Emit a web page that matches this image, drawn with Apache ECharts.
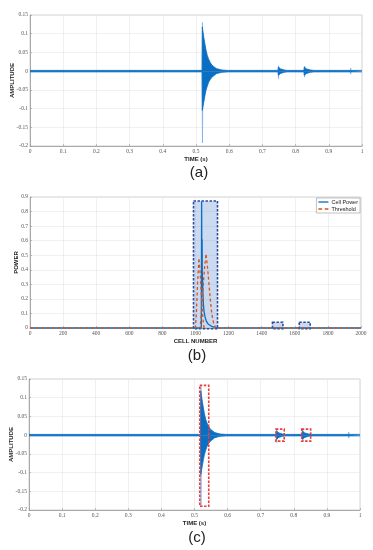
<!DOCTYPE html>
<html>
<head>
<meta charset="utf-8">
<script src="https://cdn.jsdelivr.net/npm/echarts@6/dist/echarts.min.js"></script>
<style>
html,body{margin:0;padding:0;background:#fff;}
#c{width:373px;height:550px;}
</style>
</head>
<body>
<div id="c"></div>
<script>
// ---- Data ----
// Dense signal envelope (dark part), panels (a) and (c)
const timeEnv = [0, 0.5185, 0.519, 0.521, 0.524, 0.527, 0.530, 0.534, 0.538, 0.543, 0.548, 0.554, 0.561, 0.569, 0.578, 0.595, 0.7475, 0.748, 0.751, 0.755, 0.760, 0.766, 0.775, 0.8255, 0.826, 0.829, 0.833, 0.838, 0.845, 0.855, 0.9645, 0.965, 0.969, 0.974, 1.0];
const ampUpper = [0.002, 0.002, 0.118, 0.105, 0.088, 0.072, 0.057, 0.042, 0.032, 0.023, 0.016, 0.011, 0.007, 0.005, 0.003, 0.002, 0.002, 0.011, 0.009, 0.006, 0.004, 0.003, 0.002, 0.002, 0.011, 0.009, 0.006, 0.004, 0.003, 0.002, 0.002, 0.006, 0.004, 0.002, 0.002];
const ampLower = [-0.002, -0.002, -0.105, -0.095, -0.08, -0.065, -0.052, -0.04, -0.03, -0.022, -0.016, -0.011, -0.007, -0.005, -0.003, -0.002, -0.002, -0.011, -0.009, -0.006, -0.004, -0.003, -0.002, -0.002, -0.011, -0.009, -0.006, -0.004, -0.003, -0.002, -0.002, -0.006, -0.004, -0.002, -0.002];
// Thin outer spikes (lighter part)
const spikeTime = [0, 0.518, 0.5195, 0.521, 0.747, 0.7485, 0.750, 0.8255, 0.827, 0.8285, 0.9645, 0.966, 0.9675, 1];
const spikeUpper = [0, 0, 0.13, 0, 0, 0.014, 0, 0, 0.013, 0, 0, 0.008, 0, 0];
const spikeLower = [0, 0, -0.192, 0, 0, -0.02, 0, 0, -0.016, 0, 0, -0.008, 0, 0];

// Panel (b): cell power and CFAR threshold
const cellIdx = [0, 1035, 1037, 1039, 1040, 1041, 1043, 1045, 1048, 1052, 1058, 1066, 1076, 1088, 1102, 1120, 1140, 2000];
const cellPower = [0, 0, 0.87, 0.26, 0.61, 0.38, 0.32, 0.24, 0.16, 0.11, 0.075, 0.045, 0.028, 0.017, 0.009, 0.004, 0, 0];
const thrIdx = [0, 1000, 1006, 1013, 1021, 1029, 1037, 1045, 1052, 1028, 1037, 1046, 1055, 1064, 1074, 1086, 1098, 1110, 1122, 2000];
const thrValue = [0, 0, 0.12, 0.32, 0.48, 0.36, 0.2, 0.06, 0, 0, 0.12, 0.28, 0.42, 0.51, 0.4, 0.24, 0.1, 0.03, 0, 0];

// Detection boxes [x0, x1, y0, y1]
const cellBoxes = [[988, 1133, -0.005, 0.873], [1465, 1528, -0.005, 0.04], [1627, 1693, -0.005, 0.04]];
const timeBoxes = [[0.516, 0.543, -0.19, 0.133], [0.746, 0.771, -0.016, 0.016], [0.824, 0.851, -0.016, 0.016]];

const panelLabels = ['(a)', '(b)', '(c)'];
const seriesNames = ['Cell Power', 'Threshold'];

// ---- Build chart ----
const zip = (a, b) => a.map((v, i) => [v, b[i]]);
const BLUE = '#0a6fc2';
const LIGHT = '#7fb3e6';
const RED = '#D95319';

const tickFont = {fontFamily: 'Liberation Serif', fontSize: 5.5, color: '#555'};
const nameFont = {fontFamily: 'Liberation Sans', fontSize: 6, fontWeight: 'bold', color: '#222'};
const fmt = v => String(+v.toFixed(2));

function xAx(gi, min, max, interval, name) {
  return {
    type: 'value', gridIndex: gi, min, max, interval,
    name, nameLocation: 'middle', nameGap: 10, nameMoveOverlap: false, nameTextStyle: nameFont,
    axisLine: {onZero: false, lineStyle: {color: '#999', width: 0.8}},
    axisTick: {inside: true, length: 2, lineStyle: {color: '#999', width: 0.6}},
    axisLabel: Object.assign({margin: 3, formatter: fmt}, tickFont),
    splitLine: {show: true, lineStyle: {color: '#e6e6e6', width: 0.6}}
  };
}
function yAx(gi, min, max, interval, name, gap) {
  return {
    type: 'value', gridIndex: gi, min, max, interval,
    name, nameLocation: 'middle', nameGap: gap, nameMoveOverlap: false, nameTextStyle: nameFont,
    axisLine: {show: true, onZero: false, lineStyle: {color: '#999', width: 0.8}},
    axisTick: {show: true, inside: true, length: 2, lineStyle: {color: '#999', width: 0.6}},
    axisLabel: Object.assign({margin: 2, formatter: fmt}, tickFont),
    splitLine: {show: true, lineStyle: {color: '#e6e6e6', width: 0.6}}
  };
}
function boxSeries(gi, data, fill, stroke) {
  return {
    type: 'custom', xAxisIndex: gi, yAxisIndex: gi, clip: false, z: 5,
    data: data, encode: {x: [0, 1], y: [2, 3]},
    renderItem: function (params, api) {
      const p0 = api.coord([api.value(0), api.value(3)]);
      const p1 = api.coord([api.value(1), api.value(2)]);
      return {
        type: 'rect',
        shape: {x: p0[0], y: p0[1], width: p1[0] - p0[0], height: p1[1] - p0[1]},
        style: {fill: fill, stroke: stroke, lineWidth: 1.6, lineDash: [2.5, 1.5]}
      };
    }
  };
}
function envSeries(gi, t, v, color, z) {
  return {
    type: 'line', xAxisIndex: gi, yAxisIndex: gi, data: zip(t, v), symbol: 'none',
    lineStyle: {color: color, width: 0.8}, areaStyle: {color: color, opacity: 1},
    silent: true, z: z, animation: false
  };
}

const grids = [
  {left: 30, right: 11, top: 15, height: 131},
  {left: 30, right: 12, top: 197, height: 131},
  {left: 29, right: 13, top: 379, height: 131}
].map(g => Object.assign({show: true, containLabel: false, outerBoundsMode: 'none', borderColor: '#b5b5b5', borderWidth: 0.6, backgroundColor: 'transparent'}, g));

const option = {
  animation: false,
  backgroundColor: '#fff',
  grid: grids,
  xAxis: [
    xAx(0, 0, 1, 0.1, 'TIME (s)'),
    xAx(1, 0, 2000, 200, 'CELL NUMBER'),
    xAx(2, 0, 1, 0.1, 'TIME (s)')
  ],
  yAxis: [
    yAx(0, -0.2, 0.15, 0.05, 'AMPLITUDE', 15),
    yAx(1, 0, 0.9, 0.1, 'POWER', 11),
    yAx(2, -0.2, 0.15, 0.05, 'AMPLITUDE', 15)
  ],
  legend: {
    data: [
      {name: seriesNames[0], icon: 'path://M0,0h12v1.6h-12z'},
      {name: seriesNames[1], icon: 'path://M0,0h4v1.6h-4z M7,0h4v1.6h-4z'}
    ],
    orient: 'vertical', right: 13, top: 198,
    backgroundColor: '#fff', borderColor: '#999', borderWidth: 0.6,
    padding: [1, 2], itemGap: 1, itemWidth: 10, itemHeight: 2,
    textStyle: {fontFamily: 'Liberation Sans', fontSize: 5.5, color: '#222', padding: [0, 0, 0, -2]}
  },
  graphic: [
    {type: 'text', x: 199, y: 173, style: {text: panelLabels[0], font: '15px "Liberation Sans"', fill: '#222', textAlign: 'center', textVerticalAlign: 'middle'}},
    {type: 'text', x: 197, y: 356, style: {text: panelLabels[1], font: '15px "Liberation Sans"', fill: '#222', textAlign: 'center', textVerticalAlign: 'middle'}},
    {type: 'text', x: 197, y: 538, style: {text: panelLabels[2], font: '15px "Liberation Sans"', fill: '#222', textAlign: 'center', textVerticalAlign: 'middle'}}
  ],
  series: [
    // panel (a)
    envSeries(0, spikeTime, spikeUpper, LIGHT, 2),
    envSeries(0, spikeTime, spikeLower, LIGHT, 2),
    envSeries(0, timeEnv, ampUpper, BLUE, 3),
    envSeries(0, timeEnv, ampLower, BLUE, 3),
    // panel (b)
    boxSeries(1, cellBoxes, 'rgba(110,150,215,0.35)', '#2c4d9c'),
    {
      name: seriesNames[0], type: 'line', xAxisIndex: 1, yAxisIndex: 1,
      data: zip(cellIdx, cellPower), symbol: 'none', z: 6,
      lineStyle: {color: BLUE, width: 1.3}, itemStyle: {color: BLUE}
    },
    {
      name: seriesNames[1], type: 'line', xAxisIndex: 1, yAxisIndex: 1,
      data: zip(thrIdx, thrValue), symbol: 'none', z: 7,
      lineStyle: {color: RED, width: 1.3, type: [3, 2.5]}, itemStyle: {color: RED}
    },
    // panel (c)
    envSeries(2, spikeTime, spikeUpper, LIGHT, 2),
    envSeries(2, spikeTime, spikeLower, LIGHT, 2),
    envSeries(2, timeEnv, ampUpper, BLUE, 3),
    envSeries(2, timeEnv, ampLower, BLUE, 3),
    boxSeries(2, timeBoxes, 'transparent', '#f03a3a')
  ]
};

const chart = echarts.init(document.getElementById('c'), null, {renderer: 'canvas'});
chart.setOption(option);
</script>
</body>
</html>
